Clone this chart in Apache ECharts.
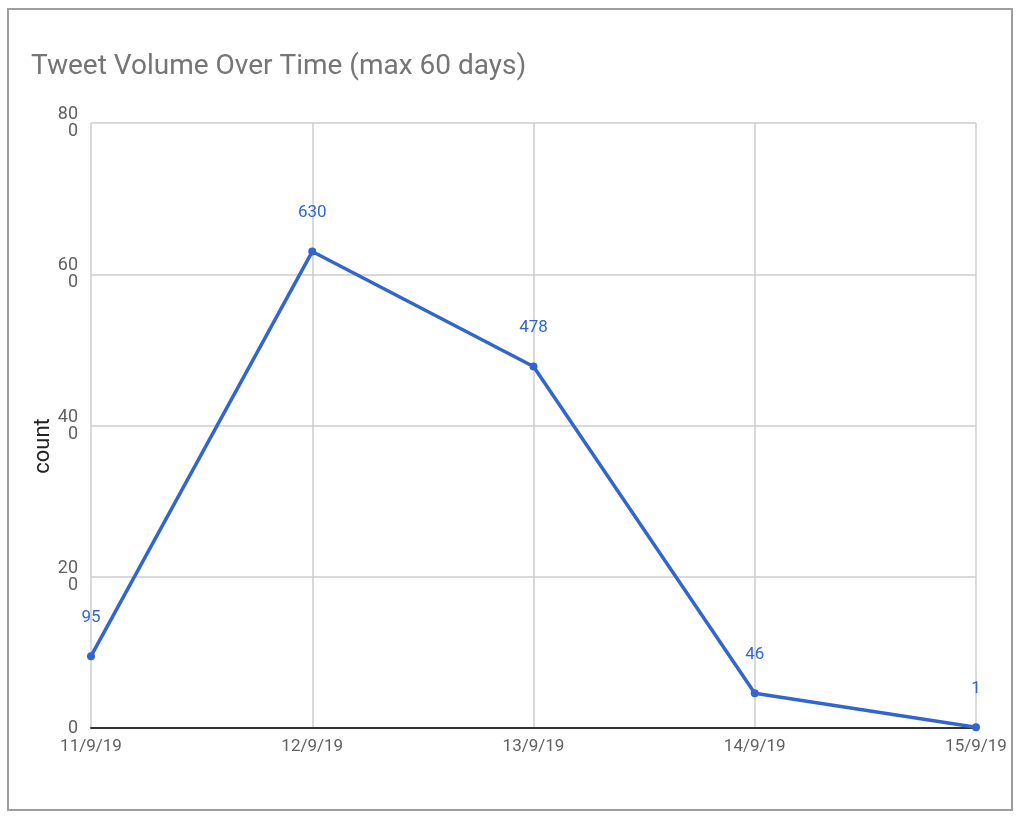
<!DOCTYPE html>
<html><head><meta charset="utf-8">
<script src="https://cdn.jsdelivr.net/npm/echarts@6/dist/echarts.min.js"></script>
<style>html,body{margin:0;padding:0;background:#fff}#c{width:1020px;height:822px}
#frame{position:absolute;left:7px;top:8px;width:1006px;height:803px;border:2px solid #9e9e9e;box-sizing:border-box;pointer-events:none}</style>
</head><body><div id="c"></div><div id="frame"></div>
<script>
const categories = ['11/9/19','12/9/19','13/9/19','14/9/19','15/9/19'];
const counts = [95, 630, 478, 46, 1];
const yTicks = [0, 200, 400, 600, 800];

const chart = echarts.init(document.getElementById('c'));
chart.setOption({
  animation:false,
  title:{text:'Tweet Volume Over Time (max 60 days)', left:26, top:48,
    textStyle:{fontFamily:'Roboto', fontSize:28, fontWeight:'normal', color:'#757575'}},
  graphic:[{type:'text', x:43, y:446, rotation:Math.PI/2,
    style:{text:'count', fontFamily:'Roboto', fontSize:22, fill:'#222', align:'center', verticalAlign:'middle'}}],
  grid:{left:91, right:44, top:123, bottom:94, containLabel:false},
  xAxis:{type:'category', data:categories, boundaryGap:false,
    axisLine:{lineStyle:{color:'#333', width:2}},
    axisTick:{show:false},
    axisLabel:{fontFamily:'Roboto', fontSize:17, color:'#616161', margin:10},
    splitLine:{show:true, lineStyle:{color:'#cccccc', width:1.5}}},
  yAxis:{type:'value', min:yTicks[0], max:yTicks[yTicks.length-1], interval:200,
    axisLine:{show:false}, axisTick:{show:false},
    axisLabel:{fontFamily:'Roboto', fontSize:18, color:'#616161', margin:13, lineHeight:17,
      formatter:v=>{const s=String(v); return s.length>2 ? s.slice(0,2)+'\n'+s.slice(2) : s;}},
    splitLine:{lineStyle:{color:'#cccccc', width:1.5}}},
  series:[{type:'line', data:counts, color:'#3366cc',
    lineStyle:{width:3.5, color:'#3366cc'}, symbol:'circle', symbolSize:8,
    itemStyle:{color:'#3366cc'},
    label:{show:true, position:'top', distance:26, fontFamily:'Roboto', fontSize:17, color:'#3366cc'}}]
});
</script></body></html>
